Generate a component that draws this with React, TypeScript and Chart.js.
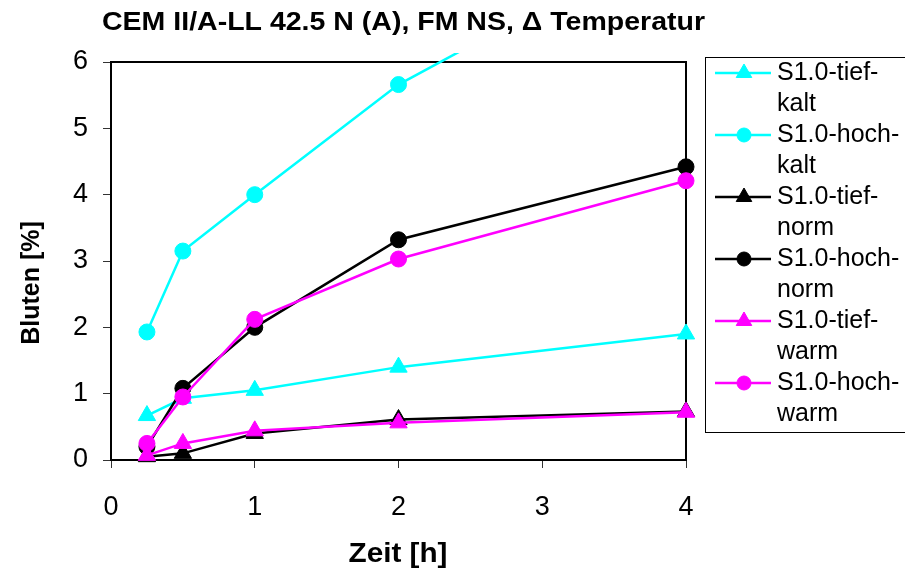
import React, { useEffect, useRef } from "react";
import { Chart, registerables } from "chart.js";

Chart.register(...registerables);

const TITLE = "CEM II/A-LL 42.5 N (A), FM NS, Δ Temperatur";
const X_TITLE = "Zeit [h]";
const Y_TITLE = "Bluten [%]";

const TIMES = [0.25, 0.5, 1, 2, 4];
const SERIES_LABELS = [
  "S1.0-tief-kalt",
  "S1.0-hoch-kalt",
  "S1.0-tief-norm",
  "S1.0-hoch-norm",
  "S1.0-tief-warm",
  "S1.0-hoch-warm",
];
const TIEF_KALT = [0.67, 0.93, 1.05, 1.4, 1.9];
const HOCH_KALT = [1.93, 3.15, 4.0, 5.66, 8.0];
const TIEF_NORM = [0.05, 0.1, 0.4, 0.61, 0.73];
const HOCH_NORM = [0.2, 1.08, 2.0, 3.32, 4.42];
const TIEF_WARM = [0.07, 0.25, 0.44, 0.56, 0.72];
const HOCH_WARM = [0.25, 0.95, 2.12, 3.03, 4.21];
const SERIES_VALUES = [TIEF_KALT, HOCH_KALT, TIEF_NORM, HOCH_NORM, TIEF_WARM, HOCH_WARM];
const SERIES_COLORS = ["#00FFFF", "#00FFFF", "#000000", "#000000", "#FF00FF", "#FF00FF"];
const SERIES_MARKERS = ["triangle", "circle", "triangle", "circle", "triangle", "circle"];

const X_MIN = 0;
const X_MAX = 4;
const Y_MIN = 0;
const Y_MAX = 6;

const FONT = "'Liberation Sans', Arial, sans-serif";

function drawMarker(ctx: CanvasRenderingContext2D, style: string, x: number, y: number, r: number, color: string) {
  ctx.save();
  ctx.fillStyle = color;
  ctx.strokeStyle = color;
  ctx.lineWidth = 1;
  ctx.beginPath();
  if (style === "circle") {
    ctx.arc(x, y, r, 0, Math.PI * 2);
  } else {
    let a = 0;
    ctx.moveTo(x + Math.sin(a) * r, y - Math.cos(a) * r);
    a += (Math.PI * 2) / 3;
    ctx.lineTo(x + Math.sin(a) * r, y - Math.cos(a) * r);
    a += (Math.PI * 2) / 3;
    ctx.lineTo(x + Math.sin(a) * r, y - Math.cos(a) * r);
    ctx.closePath();
  }
  ctx.fill();
  ctx.stroke();
  ctx.restore();
}

function splitLabel(label: string): string[] {
  const idx = label.lastIndexOf("-");
  return [label.slice(0, idx + 1), label.slice(idx + 1)];
}

// draw centered text stretched/compressed along its direction to a given length
function fitText(ctx: CanvasRenderingContext2D, text: string, cx: number, baseY: number, length: number, rotate = 0) {
  const w = ctx.measureText(text).width;
  ctx.save();
  ctx.translate(cx, baseY);
  if (rotate) ctx.rotate(rotate);
  ctx.scale(length / w, 1);
  ctx.textAlign = "center";
  ctx.textBaseline = "alphabetic";
  ctx.fillText(text, 0, 0);
  ctx.restore();
}

const framePlugin = {
  id: "frame",
  beforeDatasetsDraw(chart: any) {
    const { ctx, chartArea } = chart;
    ctx.save();
    ctx.strokeStyle = "#000";
    ctx.lineWidth = 2;
    ctx.strokeRect(chartArea.left, chartArea.top, chartArea.right - chartArea.left, chartArea.bottom - chartArea.top);
    ctx.restore();
  },
};

const decorPlugin = {
  id: "decor",
  afterDraw(chart: any) {
    const { ctx } = chart;
    ctx.save();
    ctx.fillStyle = "#000";

    // Title
    ctx.font = `bold 26px ${FONT}`;
    fitText(ctx, TITLE, 403.5, 30, 603);

    // X axis title
    ctx.font = `bold 28px ${FONT}`;
    fitText(ctx, X_TITLE, 398, 562, 99);

    // Y axis title
    ctx.save();
    ctx.font = `bold 25px ${FONT}`;
    ctx.translate(39, 283);
    ctx.rotate(-Math.PI / 2);
    ctx.textAlign = "center";
    ctx.textBaseline = "alphabetic";
    ctx.fillText(Y_TITLE, 0, 0);
    ctx.restore();

    // Legend
    const lx = 705;
    const ly = 57;
    ctx.strokeStyle = "#000";
    ctx.lineWidth = 1;
    ctx.strokeRect(lx + 0.5, ly + 0.5, 220, 375);
    ctx.font = `25px ${FONT}`;
    ctx.textAlign = "left";
    ctx.textBaseline = "middle";
    chart.data.datasets.forEach((ds: any, i: number) => {
      const rowY = 73 + i * 62;
      ctx.strokeStyle = ds.borderColor;
      ctx.lineWidth = 2.5;
      ctx.beginPath();
      ctx.moveTo(715, rowY);
      ctx.lineTo(771, rowY);
      ctx.stroke();
      drawMarker(ctx, ds.pointStyle, 744, rowY, ds.pointStyle === "circle" ? 7 : 9, ds.backgroundColor);
      ctx.fillStyle = "#000";
      const lines = splitLabel(ds.label);
      lines.forEach((t, k) => ctx.fillText(t, 777, rowY + k * 31));
    });
    ctx.restore();
  },
};

export default function App() {
  const canvasRef = useRef<HTMLCanvasElement | null>(null);

  useEffect(() => {
    document.body.style.margin = "0";
    const canvas = canvasRef.current;
    if (!canvas) return;
    const datasets = SERIES_LABELS.map((label, i) => ({
      label,
      data: TIMES.map((t, k) => ({ x: t, y: SERIES_VALUES[i][k] })),
      borderColor: SERIES_COLORS[i],
      backgroundColor: SERIES_COLORS[i],
      pointBackgroundColor: SERIES_COLORS[i],
      pointBorderColor: SERIES_COLORS[i],
      pointStyle: SERIES_MARKERS[i],
      pointRadius: SERIES_MARKERS[i] === "circle" ? 8 : 10,
      pointBorderWidth: 1,
      borderWidth: 2.5,
      tension: 0,
      fill: false,
      order: SERIES_LABELS.length - i,
      clip: { left: 20, right: 20, top: 9, bottom: 20 },
    }));
    const chart = new Chart(canvas, {
      type: "line",
      data: { datasets },
      options: {
        animation: false,
        responsive: false,
        maintainAspectRatio: false,
        layout: { padding: { top: 62, right: 219, left: 0, bottom: 0 } },
        plugins: {
          legend: { display: false },
          title: { display: false },
          tooltip: { enabled: false },
        },
        scales: {
          x: {
            type: "linear",
            min: X_MIN,
            max: X_MAX,
            afterFit: (s: any) => {
              s.height = 112;
            },
            ticks: {
              stepSize: 1,
              color: "#000",
              padding: 23,
              font: { family: FONT, size: 27 },
            },
            grid: {
              display: true,
              drawOnChartArea: false,
              drawTicks: true,
              tickLength: 8,
              color: "#333",
              lineWidth: 1,
            },
            border: { display: false },
          },
          y: {
            type: "linear",
            min: Y_MIN,
            max: Y_MAX,
            afterFit: (s: any) => {
              s.width = 111;
            },
            ticks: {
              stepSize: 1,
              color: "#000",
              padding: 15,
              font: { family: FONT, size: 27 },
            },
            grid: {
              display: true,
              drawOnChartArea: false,
              drawTicks: true,
              tickLength: 8,
              color: "#333",
              lineWidth: 1,
            },
            border: { display: false },
          },
        },
      },
      plugins: [framePlugin, decorPlugin],
    });
    return () => chart.destroy();
  }, []);

  return (
    <div style={{ width: 905, height: 572 }}>
      <canvas ref={canvasRef} width={905} height={572} style={{ display: "block" }} />
    </div>
  );
}
